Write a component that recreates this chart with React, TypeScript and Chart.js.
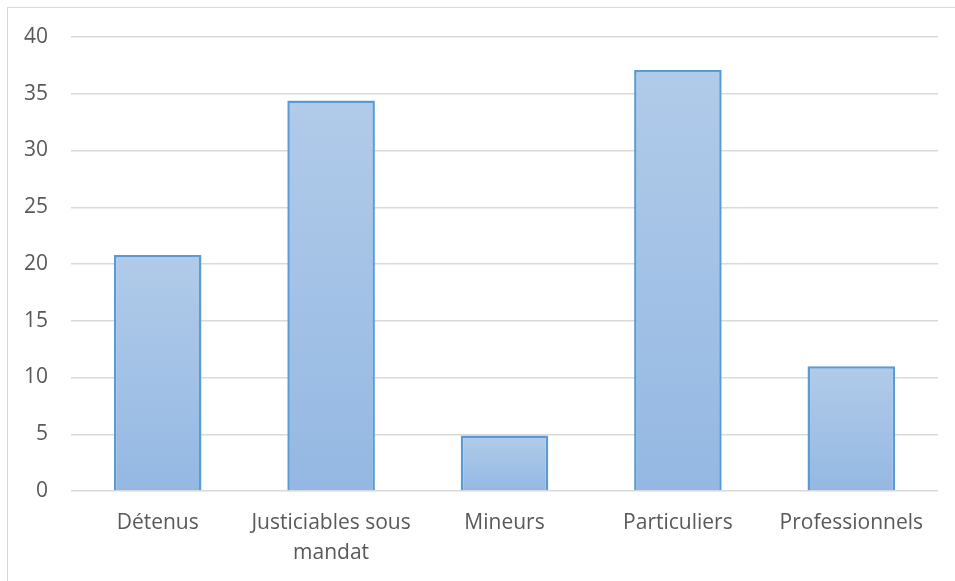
import React, { useEffect, useRef } from "react";
import { Chart, registerables } from "chart.js";

Chart.register(...registerables);

// Categories and values
const categories: (string | string[])[] = [
  "Détenus",
  ["Justiciables sous", "mandat"],
  "Mineurs",
  "Particuliers",
  "Professionnels",
];
const values: number[] = [20.8, 34.4, 4.9, 37.1, 11.0];

// Value axis range
const yMin = 0;
const yMax = 40;
const yStep = 5;

const TEXT_COLOR = "#595959";
const GRID_COLOR = "#d9d9d9";
const FONT_FAMILY = "'Open Sans', 'Noto Sans', sans-serif";

export default function App() {
  const canvasRef = useRef<HTMLCanvasElement | null>(null);

  useEffect(() => {
    const canvas = canvasRef.current;
    if (!canvas) return;

    const chart = new Chart(canvas, {
      type: "bar",
      data: {
        labels: categories,
        datasets: [
          {
            data: values,
            backgroundColor: (ctx: any) => {
              const c = ctx.chart;
              const yScale = c.scales?.y;
              if (!yScale || ctx.raw == null) return "#a3c1e6";
              const top = yScale.getPixelForValue(ctx.raw as number);
              const bottom = yScale.getPixelForValue(0);
              if (!isFinite(top) || !isFinite(bottom) || top === bottom) return "#a3c1e6";
              const g = c.ctx.createLinearGradient(0, top, 0, bottom);
              g.addColorStop(0, "#b1cbe9");
              g.addColorStop(1, "#94b8e3");
              return g;
            },
            borderColor: "#5b9bd5",
            borderWidth: 2.5,
            borderSkipped: "start",
            barPercentage: 1,
            categoryPercentage: 0.505,
          },
        ],
      },
      options: {
        responsive: false,
        animation: false,
        layout: { padding: { top: 37, right: 17, bottom: 0, left: 0 } },
        plugins: {
          legend: { display: false },
          tooltip: { enabled: false },
          title: { display: false },
        },
        scales: {
          x: {
            grid: { display: false, drawTicks: false },
            border: { display: false },
            ticks: {
              color: TEXT_COLOR,
              padding: 17,
              maxRotation: 0,
              autoSkip: false,
              font: { family: FONT_FAMILY, size: 21, lineHeight: 1.43 },
            },
            afterFit: (s: any) => {
              s.height = 90;
            },
          },
          y: {
            min: yMin,
            max: yMax,
            grid: { color: GRID_COLOR, lineWidth: 1.5, drawTicks: false },
            border: { display: false },
            ticks: {
              stepSize: yStep,
              color: TEXT_COLOR,
              padding: 23,
              font: { family: FONT_FAMILY, size: 21 },
            },
            afterFit: (s: any) => {
              s.width = 71;
            },
          },
        },
      },
    });

    return () => chart.destroy();
  }, []);

  return (
    <div
      style={{
        position: "fixed",
        left: 0,
        top: 0,
        width: 955,
        height: 581,
        background: "#ffffff",
        overflow: "hidden",
      }}
    >
      <div
        style={{
          position: "absolute",
          left: 7,
          top: 7,
          right: 0,
          bottom: 0,
          borderTop: "1.5px solid " + GRID_COLOR,
          borderLeft: "1.5px solid " + GRID_COLOR,
        }}
      />
      <canvas
        ref={canvasRef}
        width={955}
        height={581}
        style={{ position: "absolute", left: 0, top: 0, width: 955, height: 581 }}
      />
    </div>
  );
}
